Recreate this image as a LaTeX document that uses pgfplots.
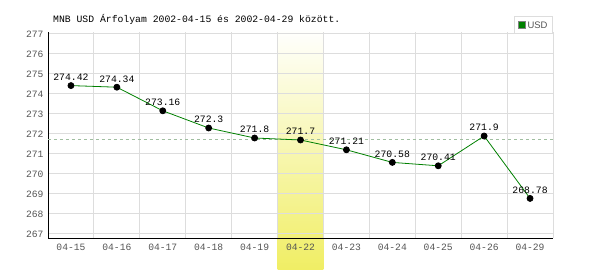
\documentclass[border=0pt]{standalone}
\usepackage{fontspec}
\setmainfont{Liberation Mono}
\setsansfont{Liberation Sans}
\usepackage{pgfplots}
\pgfplotsset{compat=1.18}
\pgfdeclarelayer{highlight}
\pgfplotsset{
  layers/mylayers/.define layer set={axis background,axis grid,axis ticks,axis lines,highlight,axis tick labels,main,axis descriptions,axis foreground}{},
}
\definecolor{gridc}{RGB}{221,221,221}
\definecolor{tickc}{RGB}{85,85,85}
\definecolor{linec}{RGB}{0,128,0}
\definecolor{hlc}{RGB}{240,238,100}
\definecolor{avgc}{RGB}{160,190,160}
\begin{document}
\begin{tikzpicture}
\begin{axis}[
  set layers=mylayers,
  at={(0,0)}, anchor=south west,
  scale only axis, width=505bp, height=206bp,
  xmin=-0.5, xmax=10.5, ymin=266.8, ymax=277.1,
  clip=false,
  axis x line=bottom, axis y line=left,
  axis line style={black, line width=1bp, -},
  xtick={0,...,10},
  xticklabels={04-15,04-16,04-17,04-18,04-19,04-22,04-23,04-24,04-25,04-26,04-29},
  minor xtick={-0.5,0.5,...,10.5},
  ytick={267,...,277},
  major tick length=0pt, minor tick length=0pt,
  xmajorgrids=false, xminorgrids=true, ymajorgrids=true,
  grid style={gridc, line width=1bp},
  minor grid style={gridc, line width=1bp},
  /pgf/number format/assume math mode=true,
  ticklabel style={text=tickc, font=\fontsize{9.7}{11}\selectfont},
  xticklabel style={yshift=-3bp},
  yticklabel style={xshift=-1bp},
  legend style={at={(rel axis cs:1,1)}, anchor=north east, yshift=16bp,
    draw=gridc, fill=white, font=\sffamily\fontsize{9.5}{10}\selectfont,
    text=tickc, inner xsep=3bp, inner ysep=4bp, line width=1bp,
    nodes={inner xsep=2bp, inner ysep=1bp, text depth=0pt}},
  legend cell align=left,
]
\begin{pgfonlayer}{highlight}
\shade[top color=white, bottom color=hlc] (axis cs:4.5,277.3) rectangle (axis cs:5.5,265.2);
\end{pgfonlayer}
\addlegendimage{legend image code/.code={\draw[fill=linec, draw=gray, line width=0.6bp] (0bp,-3.5bp) rectangle (7bp,3.5bp);}}
\addlegendentry{USD\hspace{5bp}}
\addplot[avgc, dashed, line width=0.8bp, forget plot] coordinates {(-0.5,271.75) (10.5,271.75)};
\addplot[draw=none, forget plot, nodes near coords, point meta=explicit symbolic,
  every node near coord/.style={anchor=base, yshift=5bp, inner sep=0pt, font=\fontsize{9.8}{11}\selectfont, text=black}]
  coordinates {
  (0,274.42) [274.42]
  (1,274.34) [274.34]
  (2,273.16) [273.16]
  (3,272.3) [272.3]
  (4,271.8) [271.8]
  (5,271.7) [271.7]
  (6,271.21) [271.21]
  (7,270.58) [270.58]
  (8,270.41) [270.41]
  (9,271.9) [271.9]
  (10,268.78) [268.78]
  };
\addplot[linec, line width=0.8bp, mark=*, mark size=3bp, mark options={fill=black, draw=black}, forget plot]
  coordinates {
  (0,274.42) (1,274.34) (2,273.16) (3,272.3) (4,271.8) (5,271.7)
  (6,271.21) (7,270.58) (8,270.41) (9,271.9) (10,268.78)
  };
\node[anchor=base west, font=\fontsize{9.8}{11}\selectfont, inner sep=0pt] at (rel axis cs:0,1) [xshift=5bp, yshift=9bp] {MNB USD Árfolyam 2002-04-15 és 2002-04-29 között.};
\end{axis}
\path[use as bounding box] (-48bp,-32bp) rectangle (552bp,238bp);
\end{tikzpicture}
\end{document}
